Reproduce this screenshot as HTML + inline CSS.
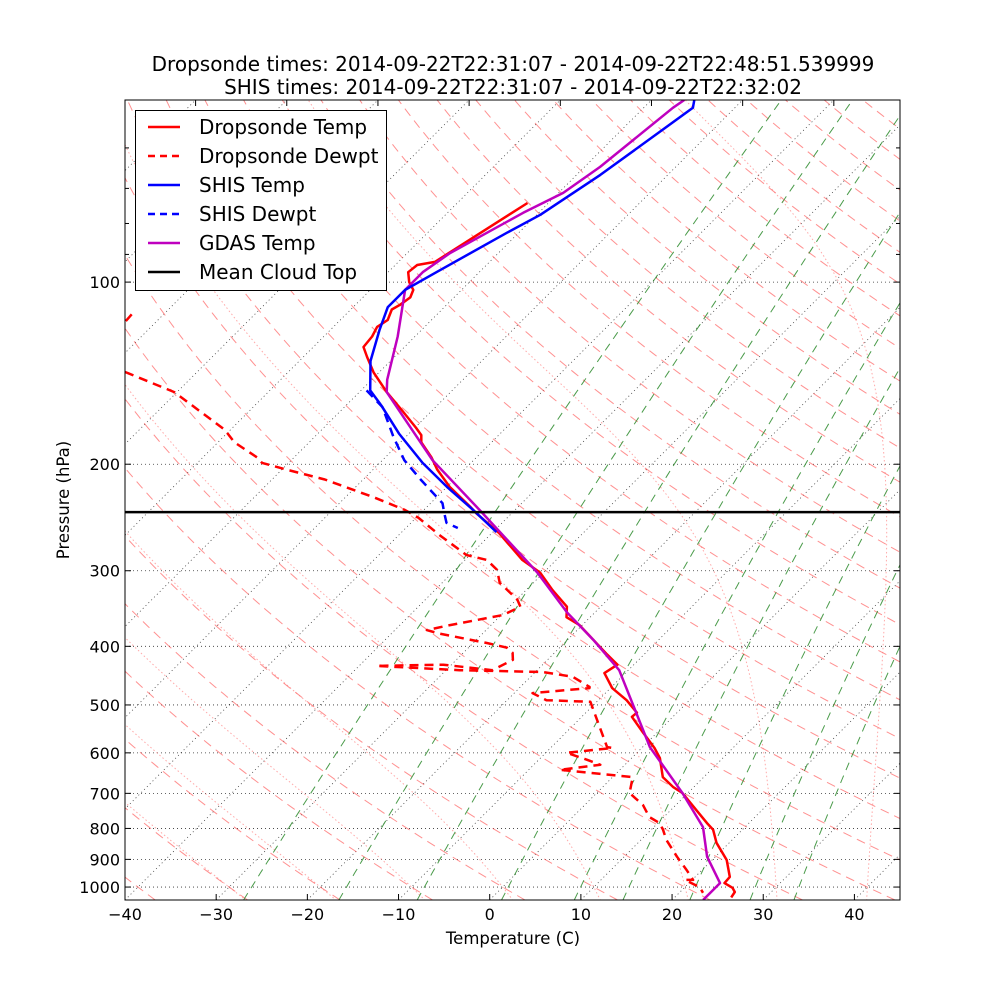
<!DOCTYPE html>
<html>
<head>
<meta charset="utf-8">
<style>
html,body{margin:0;padding:0;background:#fff;}
svg{display:block;font-family:"DejaVu Sans","Liberation Sans",sans-serif;}
</style>
</head>
<body>
<svg id="chart" width="1000" height="1000" viewBox="0 0 1000 1000" xmlns="http://www.w3.org/2000/svg">
  <rect x="0" y="0" width="1000" height="1000" fill="#fff"/>
  <text x="513" y="71" font-size="20" text-anchor="middle">Dropsonde times: 2014-09-22T22:31:07 - 2014-09-22T22:48:51.539999</text>
  <text x="513" y="94" font-size="20" text-anchor="middle">SHIS times: 2014-09-22T22:31:07 - 2014-09-22T22:32:02</text>
  <defs><clipPath id="plotclip"><rect x="125" y="100" width="775" height="800"/></clipPath></defs>
  <g id="bg" clip-path="url(#plotclip)"></g>
  <g id="series" clip-path="url(#plotclip)"></g>
  <g id="axes"></g>
  <text x="513" y="944" font-size="16.5" text-anchor="middle">Temperature (C)</text>
  <text x="69" y="500" font-size="16.5" text-anchor="middle" transform="rotate(-90 69 500)">Pressure (hPa)</text>
  <g id="legend"></g>
</svg>
<script>
// ---- data (pressure hPa, temperature C) ----
const dropTempP = [74,92.6,93.7,96.3,100,103,106,109,111,115.5,118.6,123,128,133,141,152,163,174,179,184,195,204,218,235,241,260,288,302,323,344,358,369,390,413,429,443,469,491,515,523,556,589,612,658,683,699,746,784,804,845,902,962,985,1003,1019,1040];
const dropTempT = [-72.3,-76.0,-77.6,-77.8,-76.6,-75.3,-74.8,-75.1,-75.5,-74.8,-75.2,-74.7,-74.5,-73.0,-70.6,-67.0,-63.3,-59.9,-58.5,-57.7,-54.9,-53.0,-49.7,-45.3,-43.9,-39.2,-33.7,-30.4,-27.1,-23.7,-22.6,-20.3,-17.2,-14.0,-11.8,-12.3,-9.8,-6.9,-4.4,-4.5,-1.5,1.4,3.1,5.5,7.7,9.4,12.8,15.4,16.8,18.6,21.6,23.8,23.9,25.3,26.0,26.2];
const dropDewP = [116,113,null,140.8,152,175.5,184,195,199,204,212,227,238,245,262,282.5,288,299,314,335,344,355,369,376,381,395,402,410,421,438,429,431,438,441,449,467,469,478,491,494,544,587,589,600,616,628,640,658,699,732,766,784,804,836,891,937,973,973,1000,1022];
const dropDewT = [-103.4,-103.5,null,-97.9,-90.3,-80.6,-78.2,-74.0,-72.9,-69.6,-64.2,-56.8,-52.1,-49.8,-45.5,-40.4,-37.6,-35.4,-33.7,-29.9,-28.8,-29.8,-34.5,-36.5,-34.8,-28.5,-25.8,-24.6,-23.8,-24.9,-30.9,-38.1,-28.5,-19.2,-15.4,-12.4,-12.3,-18.0,-15.7,-10.7,-6.9,-3.9,-3.2,-7.7,-4.7,-2.7,-6.6,2.2,3.6,6.4,8.4,10.2,11.3,12.8,15.8,18.3,20.1,19.2,21.6,22.6];
const shisTempP = [50,51.5,66.5,77.4,82.9,96.3,103,110,120,135,151,160,178,199,218,238,259];
const shisTempT = [-65.3,-64.6,-67.4,-69.6,-71.3,-74.7,-76.2,-76.2,-74.6,-72.2,-69.0,-66.1,-61.1,-55.3,-50.0,-44.6,-39.6];
const shisDewP = [151,161,180,197,212,232,241,250,255];
const shisDewT = [-69.4,-65.8,-61.4,-57.6,-53.7,-48.7,-47.4,-46.1,-44.3];
const gdasTempP = [50,51.5,64.5,71.2,76.8,89.5,96.3,103,123,145,152,197,238,302,352,390,438,587,699,796,891,985,1050];
const gdasTempT = [-66.4,-66.8,-68.3,-69.5,-71.7,-75.3,-76.2,-76.2,-71.9,-68.3,-67.0,-54.5,-43.9,-30.7,-23.0,-17.2,-11.0,0.8,9.4,15.4,19.1,23.4,23.4];
const cloudTopP = [240];
const xTicks = [-40,-30,-20,-10,0,10,20,30,40];
const yTicks = [100,200,300,400,500,600,700,800,900,1000];
const yMinorTicks = [60,70,80,90];
const dryAdiabatThetas = [-40,-30,-20,-10,0,10,20,30,40,50,60,70,80,90,100,110,120,130,140,150,160,170,180,190,200,210,220,230,240,250,260];
const moistStartT = [-30,-20,-10,0,10,20,30,40];
const mixingRatios = [0.0004,0.001,0.002,0.004,0.007,0.01,0.016,0.024,0.032];

// ---- axes functions ----
const X0=125, X1=900, Y0=100, Y1=900, TMIN=-40, TMAX=45, PTOP=50, PBOT=1050.5;
const PXPERDEG=(X1-X0)/(TMAX-TMIN);
const DECADE=(Y1-Y0)/Math.log10(PBOT/PTOP);
function yOf(p){return Y0+DECADE*Math.log10(p/PTOP);}
function xOf(T,p){return X0+(T-TMIN)*PXPERDEG+(Y1-yOf(p));}
const NS="http://www.w3.org/2000/svg";
function mk(tag,attrs,parent){const e=document.createElementNS(NS,tag);for(const k in attrs)e.setAttribute(k,attrs[k]);parent.appendChild(e);return e;}
function pathFrom(ps,ts){let d="",pen=false;for(let i=0;i<ps.length;i++){if(ps[i]===null||ts[i]===null){pen=false;continue;}d+=(pen?"L":"M")+xOf(ts[i],ps[i]).toFixed(1)+","+yOf(ps[i]).toFixed(1);pen=true;}return d;}
function pLevels(){const a=[];for(let i=0;i<=120;i++)a.push(PBOT*Math.pow(PTOP/PBOT,i/120));return a;}
const bg=document.getElementById('bg'), series=document.getElementById('series'), axes=document.getElementById('axes'), legend=document.getElementById('legend');

// isotherms
for(let T=-170;T<=50;T+=10){
  const l=mk('line',{x1:xOf(T,PBOT),y1:Y1,x2:xOf(T,PTOP),y2:Y0,stroke:'#000','stroke-width':0.8,'stroke-dasharray':'1,3',opacity:0.75},bg);
  
  
}
// isobars
yTicks.forEach(p=>{
  const l=mk('line',{x1:X0,y1:yOf(p),x2:X1,y2:yOf(p),stroke:'#000','stroke-width':0.8,'stroke-dasharray':'1,3',opacity:0.8},bg);
  
  
});
// dry adiabats
const PL=pLevels();
dryAdiabatThetas.forEach(th=>{
  const ts=PL.map(p=>(th+273.15)*Math.pow(p/1000,0.286)-273.15);
  const l=mk('path',{d:pathFrom(PL,ts),fill:'none',stroke:'#ff5555','stroke-width':1,'stroke-dasharray':'9,6',opacity:0.65},bg);
  
  
});
// moist adiabats
function es(T){return 6.112*Math.exp(17.67*T/(T+243.5));}
function moistLapse(T,p){const Tk=T+273.15,Rd=287.04,Cp=1005.7,Lv=2.501e6,eps=0.622;const rs=eps*es(T)/(p-es(T));return (Rd*Tk+Lv*rs)/(p*(Cp+Lv*Lv*rs*eps/(Rd*Tk*Tk)));}
moistStartT.forEach(T0=>{
  const ps=[],ts=[];
  let T=T0,p=1000;const up=[];
  for(let i=0;i<400;i++){up.push([p,T]);const np=p*Math.pow(PTOP/1000,1/399);T+=moistLapse(T,p)*(np-p);p=np;}
  let Td=T0,pd=1000;const dn=[];
  for(let i=0;i<20;i++){const np=pd+(PBOT-1000)/19;Td+=moistLapse(Td,pd)*(np-pd);pd=np;dn.push([pd,Td]);}
  dn.reverse().concat(up).forEach(a=>{ps.push(a[0]);ts.push(a[1]);});
  const l=mk('path',{d:pathFrom(ps,ts),fill:'none',stroke:'#ff7070','stroke-width':1,'stroke-dasharray':'1.5,2.5',opacity:0.6},bg);
  
  
});
// mixing lines
mixingRatios.forEach(w=>{
  const ts=PL.map(p=>{const e=w*p/(0.622+w);const g=Math.log(e/6.112);return 243.5*g/(17.67-g);});
  const l=mk('path',{d:pathFrom(PL,ts),fill:'none',stroke:'#2a8a2a','stroke-width':1,'stroke-dasharray':'8,6',opacity:0.85},bg);
  
  
});

// series
function drawSeries(ps,ts,color,dash,name){
  const a={d:pathFrom(ps,ts),fill:'none',stroke:color,'stroke-width':2.5,'stroke-linejoin':'round'};
  if(dash)a['stroke-dasharray']=dash;
  const l=mk('path',a,series);
  
  
}
drawSeries(dropDewP,dropDewT,'#ff0000','9,6','dropsonde-dewpt-line');
drawSeries(shisDewP,shisDewT,'#0000ff','9,6','shis-dewpt-line');
drawSeries(dropTempP,dropTempT,'#ff0000',null,'dropsonde-temp-line');
drawSeries(gdasTempP,gdasTempT,'#bf00bf',null,'gdas-temp-line');
drawSeries(shisTempP,shisTempT,'#0000ff',null,'shis-temp-line');
cloudTopP.forEach(p=>{
  const l=mk('line',{x1:X0,y1:yOf(p),x2:X1,y2:yOf(p),stroke:'#000','stroke-width':2.5},series);
  
  
});

// axes frame
const fr=mk('rect',{x:X0,y:Y0,width:X1-X0,height:Y1-Y0,fill:'none',stroke:'#000','stroke-width':1},axes);


xTicks.forEach(T=>{
  const x=X0+(T-TMIN)*PXPERDEG;
  mk('line',{x1:x,y1:Y1,x2:x,y2:Y1-6,stroke:'#000','stroke-width':1},axes);
  const t=mk('text',{x:x,y:Y1+20,'font-size':16,'text-anchor':'middle'},axes);
  t.textContent=(T<0?'\u2212'+(-T):String(T));
  
  
});
for(let T=-120;T<=50;T+=10){
  const x=xOf(T,PTOP);
  if(x>X0&&x<X1)mk('line',{x1:x,y1:Y0,x2:x,y2:Y0+6,stroke:'#000','stroke-width':1},axes);
}
yTicks.forEach(p=>{
  const y=yOf(p);
  mk('line',{x1:X0,y1:y,x2:X0+6,y2:y,stroke:'#000','stroke-width':1},axes);
  mk('line',{x1:X1,y1:y,x2:X1-6,y2:y,stroke:'#000','stroke-width':1},axes);
  const t=mk('text',{x:X0-5,y:y+6,'font-size':16,'text-anchor':'end'},axes);
  t.textContent=String(p);
  
  
});
yMinorTicks.forEach(p=>{
  const y=yOf(p);
  mk('line',{x1:X0,y1:y,x2:X0+4,y2:y,stroke:'#000','stroke-width':1},axes);
  mk('line',{x1:X1,y1:y,x2:X1-4,y2:y,stroke:'#000','stroke-width':1},axes);
});

// legend
const lb=mk('rect',{x:135.5,y:110.5,width:251,height:180,fill:'#fff',stroke:'#000','stroke-width':1},legend);


const legendLabels=['Dropsonde Temp','Dropsonde Dewpt','SHIS Temp','SHIS Dewpt','GDAS Temp','Mean Cloud Top'];
const legendColors=['#ff0000','#ff0000','#0000ff','#0000ff','#bf00bf','#000000'];
const legendDash=[null,'7,5',null,'7,5',null,null];
legendLabels.forEach((lab,i)=>{
  const y=127+i*29;
  const a={x1:148,y1:y,x2:180,y2:y,stroke:legendColors[i],'stroke-width':2.5};
  if(legendDash[i])a['stroke-dasharray']=legendDash[i];
  const l=mk('line',a,legend);
  
  
  const t=mk('text',{x:199,y:y+7,'font-size':20},legend);
  t.textContent=lab;
  
  
});
</script>
</body>
</html>
